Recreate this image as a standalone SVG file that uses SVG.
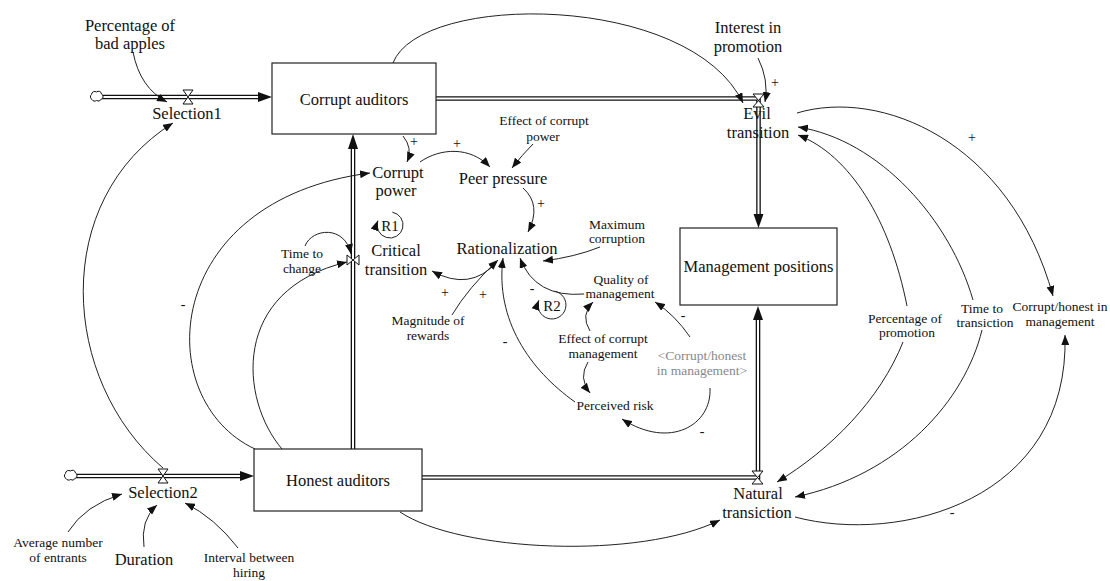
<svg xmlns="http://www.w3.org/2000/svg" width="1110" height="581" viewBox="0 0 1110 581" font-family="'Liberation Serif', 'DejaVu Serif', serif">
  <style>
    .big, .sm, .sign { font-family: 'Liberation Serif', 'DejaVu Serif', serif; fill: #111; text-anchor: middle; }
    .big { font-size: 16.5px; }
    .sm { font-size: 13.5px; }
    .sign { font-size: 14px; }
    .shadow { fill: #888; }
    .box { fill: #fff; stroke: #222; stroke-width: 1.2; }
    .link { fill: none; stroke: #222; stroke-width: 1; marker-end: url(#ah); }
    .pipe-o { fill: none; stroke: #111; stroke-width: 4.6; stroke-linejoin: miter; }
    .pipe-i { fill: none; stroke: #fff; stroke-width: 2; stroke-linejoin: miter; }
    .head { fill: #111; }
    .valve { fill: #fff; stroke: #111; stroke-width: 1; }
    .cloud { fill: #fff; stroke: #111; stroke-width: 1; }
  </style>
  <defs>
    <marker id="ah" markerUnits="userSpaceOnUse" markerWidth="10" markerHeight="8" refX="10" refY="4" orient="auto">
      <path d="M0,0 L10,4 L0,8 z" fill="#111"/>
    </marker>
  </defs>

  <rect width="1110" height="581" fill="#fff"/>

  <!-- stock-and-flow pipes -->
  <g id="flows">
    <!-- Selection1 -->
    <path class="pipe-o" d="M102,97 H262"/>
    <path class="pipe-i" d="M102,97 H262"/>
    <polygon class="head" points="258,92 272,97 258,102"/>
    <!-- Evil transition -->
    <path class="pipe-o" d="M436,98.5 H758.5 V216"/>
    <path class="pipe-i" d="M436,98.5 H758.5 V216"/>
    <polygon class="head" points="753.5,214 758.5,228 763.5,214"/>
    <!-- Critical transition -->
    <path class="pipe-o" d="M353,449 V146"/>
    <path class="pipe-i" d="M353,449 V146"/>
    <polygon class="head" points="348,149 353,134 358,149"/>
    <!-- Selection2 -->
    <path class="pipe-o" d="M76,476 H244"/>
    <path class="pipe-i" d="M76,476 H244"/>
    <polygon class="head" points="240,471 254,476 240,481"/>
    <!-- Natural transiction -->
    <path class="pipe-o" d="M422,477.5 H758 V318"/>
    <path class="pipe-i" d="M422,477.5 H758 V318"/>
    <polygon class="head" points="753,320 758,306 763,320"/>
    <!-- sources -->
    <path class="cloud" d="M92,99.5 a3,3 0 0 1 -0.5,-5 a3.2,3.2 0 0 1 5,-2.5 a3,3 0 0 1 5,2 a3,3 0 0 1 -0.5,5.5 a3.2,3.2 0 0 1 -4.5,1 a3,3 0 0 1 -4.5,-1 z"/>
    <path class="cloud" d="M66,478.5 a3,3 0 0 1 -0.5,-5 a3.2,3.2 0 0 1 5,-2.5 a3,3 0 0 1 5,2 a3,3 0 0 1 -0.5,5.5 a3.2,3.2 0 0 1 -4.5,1 a3,3 0 0 1 -4.5,-1 z"/>
    <!-- valves -->
    <path class="valve" d="M183,90 H193 L183,104 H193 Z"/>
    <path class="valve" d="M158,469 H168 L158,483 H168 Z"/>
    <path class="valve" d="M347,255 V265 L359,255 V265 Z"/>
    <path class="valve" d="M753,94 H764 L753,107 H764 Z"/>
    <path class="valve" d="M752,471 H763 L752,484 H763 Z"/>
  </g>

  <!-- causal links -->
  <g id="connectors">
    <path class="link" d="M133,52 Q140,88 167,102"/>
    <path class="link" d="M163,468 C60,380 50,200 173,123"/>
    <path class="link" d="M255,449 C150,400 160,200 370,173"/>
    <path class="link" d="M282,449 C240,400 230,290 347,262"/>
    <path class="link" d="M305,246 C312,228 345,225 351,254"/>
    <path class="link" d="M403,136 Q413,148 407,162"/>
    <path class="link" d="M393,63 C420,-8 690,-8 743,103"/>
    <path class="link" d="M420,162 C440,148 470,146 490,167"/>
    <path class="link" d="M533,144 Q522,155 512,168"/>
    <path class="link" d="M523,188 Q542,205 528,232"/>
    <path class="link" d="M497,262 Q470,292 432,271"/>
    <path class="link" d="M452,315 Q468,288 498,260"/>
    <path class="link" d="M600,247 Q575,257 543,261"/>
    <path class="link" d="M584,294 Q535,298 520,258"/>
    <path class="link" d="M590,331 Q580,315 593,302"/>
    <path class="link" d="M588,362 Q578,378 590,393"/>
    <path class="link" d="M690,337 Q675,315 655,302"/>
    <path class="link" d="M710,388 C712,425 670,450 622,419"/>
    <path class="link" d="M575,402 C530,370 495,320 503,258"/>
    <path class="link" d="M392.3,212.2 A13,13 0 1 1 377.8,220.6"/>
    <path class="link" d="M554.4,291.2 A14,14 0 1 1 538.8,300.2"/>
    <path class="link" d="M758,58 Q769,80 765,102"/>
    <path class="link" d="M797,113 C880,88 1010,140 1053,296"/>
    <path class="link" d="M973,300 C950,220 880,140 798,127"/>
    <path class="link" d="M907,306 C890,220 850,155 798,135"/>
    <path class="link" d="M903,342 C880,400 830,450 777,482"/>
    <path class="link" d="M982,330 C965,400 900,475 795,497"/>
    <path class="link" d="M795,517 C900,545 1070,500 1065,335"/>
    <path class="link" d="M400,512 C460,552 640,560 720,520"/>
    <path class="link" d="M68,532 Q85,505 122,494"/>
    <path class="link" d="M144,547 Q140,520 157,505"/>
    <path class="link" d="M238,548 Q215,518 185,503"/>
  </g>

  <!-- polarity and loop marks -->
  <g id="polarities">
    <text class="sign" x="414" y="146">+</text>
    <text class="sign" x="457" y="148">+</text>
    <text class="sign" x="541" y="208">+</text>
    <text class="sign" x="445" y="297">+</text>
    <text class="sign" x="483" y="299">+</text>
    <text class="sign" x="532" y="293">-</text>
    <text class="sign" x="683" y="320">-</text>
    <text class="sign" x="505" y="346">-</text>
    <text class="sign" x="702" y="436">-</text>
    <text class="sign" x="183" y="309">-</text>
    <text class="sign" x="775" y="87">+</text>
    <text class="sign" x="972" y="142">+</text>
    <text class="sign" x="952" y="517">-</text>
    <text class="big" x="390" y="231" style="font-size:15px">R1</text>
    <text class="big" x="552" y="311" style="font-size:15px">R2</text>
  </g>

  <!-- stocks -->
  <g id="corrupt-auditors">
    <rect class="box" x="272" y="63" width="164" height="71"/>
    <text class="big" x="354" y="104.5">Corrupt auditors</text>
  </g>
  <g id="honest-auditors">
    <rect class="box" x="254" y="449" width="168" height="62"/>
    <text class="big" x="338" y="485.5">Honest auditors</text>
  </g>
  <g id="management-positions">
    <rect class="box" x="680" y="228" width="157" height="77"/>
    <text class="big" x="758.5" y="272">Management positions</text>
  </g>

  <!-- flow rates -->
  <g id="selection1"><text class="big" x="187" y="119">Selection1</text></g>
  <g id="selection2"><text class="big" x="163" y="497.5">Selection2</text></g>
  <g id="evil-transition">
    <text class="big" x="757" y="118.5">Evil</text>
    <text class="big" x="758" y="137.5">transition</text>
  </g>
  <g id="critical-transition">
    <text class="big" x="396" y="256">Critical</text>
    <text class="big" x="396" y="275">transition</text>
  </g>
  <g id="natural-transiction">
    <text class="big" x="758" y="499">Natural</text>
    <text class="big" x="757" y="517.5">transiction</text>
  </g>

  <!-- auxiliaries -->
  <g id="percentage-bad-apples">
    <text class="big" x="130" y="31">Percentage of</text>
    <text class="big" x="130" y="49">bad apples</text>
  </g>
  <g id="interest-in-promotion">
    <text class="big" x="748" y="33">Interest in</text>
    <text class="big" x="748" y="52">promotion</text>
  </g>
  <g id="corrupt-power">
    <text class="big" x="398" y="178">Corrupt</text>
    <text class="big" x="396" y="196">power</text>
  </g>
  <g id="peer-pressure"><text class="big" x="503" y="184">Peer pressure</text></g>
  <g id="rationalization"><text class="big" x="507" y="253.5">Rationalization</text></g>
  <g id="effect-corrupt-power">
    <text class="sm" x="544" y="125">Effect of corrupt</text>
    <text class="sm" x="543" y="141">power</text>
  </g>
  <g id="time-to-change">
    <text class="sm" x="302" y="258">Time to</text>
    <text class="sm" x="302" y="273">change</text>
  </g>
  <g id="maximum-corruption">
    <text class="sm" x="617" y="229">Maximum</text>
    <text class="sm" x="617" y="243">corruption</text>
  </g>
  <g id="quality-of-management">
    <text class="sm" x="621" y="284">Quality of</text>
    <text class="sm" x="620" y="298">management</text>
  </g>
  <g id="magnitude-of-rewards">
    <text class="sm" x="428" y="325">Magnitude of</text>
    <text class="sm" x="428" y="340">rewards</text>
  </g>
  <g id="effect-corrupt-management">
    <text class="sm" x="603" y="343">Effect of corrupt</text>
    <text class="sm" x="603" y="358">management</text>
  </g>
  <g id="perceived-risk"><text class="sm" x="615" y="410">Perceived risk</text></g>
  <g id="corrupt-honest-shadow">
    <text class="sm shadow" x="702" y="360">&lt;Corrupt/honest</text>
    <text class="sm shadow" x="702" y="375">in management&gt;</text>
  </g>
  <g id="percentage-of-promotion">
    <text class="sm" x="905" y="323">Percentage of</text>
    <text class="sm" x="907" y="337">promotion</text>
  </g>
  <g id="time-to-transiction">
    <text class="sm" x="982" y="313">Time to</text>
    <text class="sm" x="985" y="327">transiction</text>
  </g>
  <g id="corrupt-honest-in-management">
    <text class="sm" x="1060" y="311">Corrupt/honest in</text>
    <text class="sm" x="1060" y="326">management</text>
  </g>
  <g id="average-entrants">
    <text class="sm" x="58" y="547">Average number</text>
    <text class="sm" x="58" y="562">of entrants</text>
  </g>
  <g id="duration"><text class="big" x="144" y="564.5">Duration</text></g>
  <g id="interval-between-hiring">
    <text class="sm" x="249" y="562">Interval between</text>
    <text class="sm" x="249" y="577">hiring</text>
  </g>
</svg>
